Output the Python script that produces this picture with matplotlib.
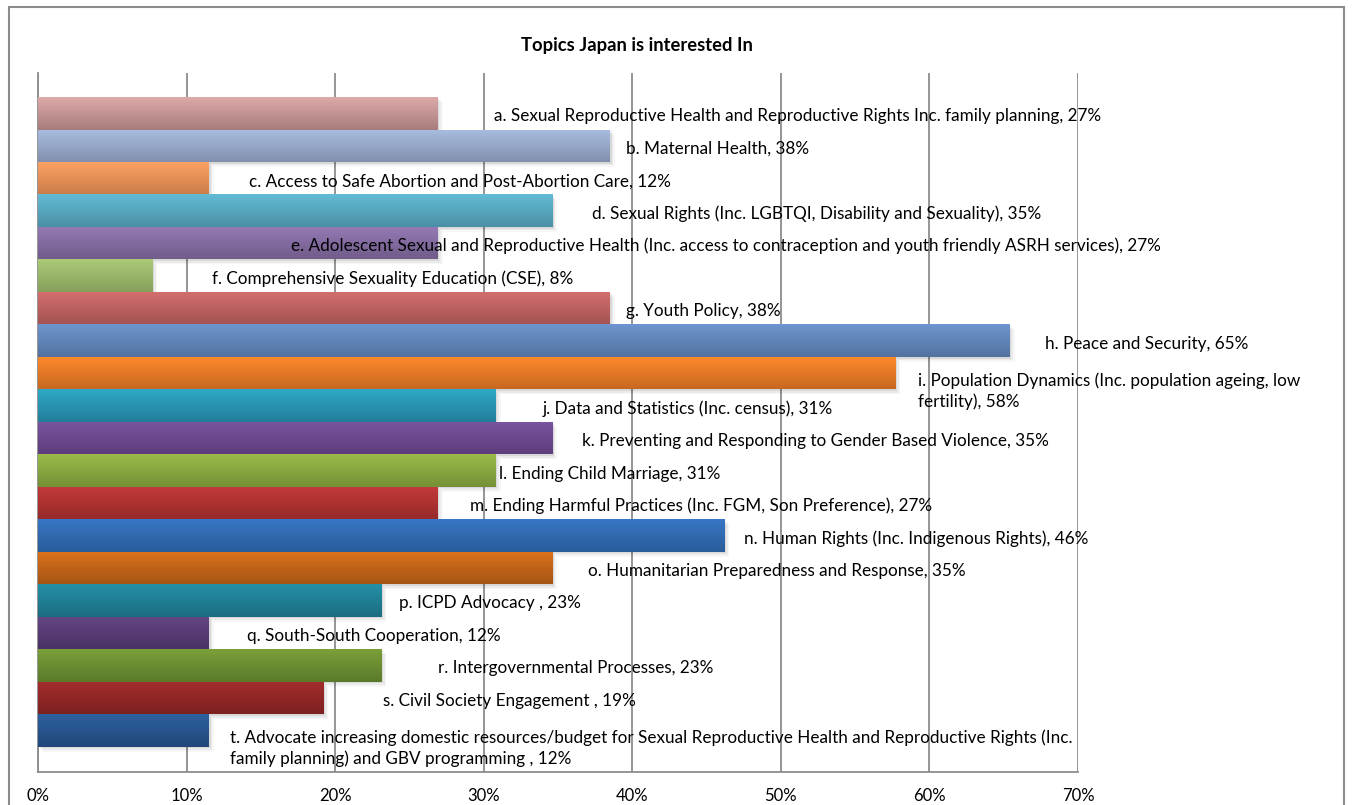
import matplotlib
matplotlib.use('Agg')
import matplotlib.pyplot as plt
import numpy as np
from matplotlib.colors import LinearSegmentedColormap
from matplotlib.patches import Rectangle
from matplotlib.transforms import ScaledTranslation

plt.rcParams['font.family'] = ['Lato', 'DejaVu Sans']

topics = [
    'a. Sexual Reproductive Health and Reproductive Rights Inc. family planning',
    'b. Maternal Health',
    'c. Access to Safe Abortion and Post-Abortion Care',
    'd. Sexual Rights (Inc. LGBTQI, Disability and Sexuality)',
    'e. Adolescent Sexual and Reproductive Health (Inc. access to contraception and youth friendly ASRH services)',
    'f. Comprehensive Sexuality Education (CSE)',
    'g. Youth Policy',
    'h. Peace and Security',
    'i. Population Dynamics (Inc. population ageing, low\nfertility)',
    'j. Data and Statistics (Inc. census)',
    'k. Preventing and Responding to Gender Based Violence',
    'l. Ending Child Marriage',
    'm. Ending Harmful Practices (Inc. FGM, Son Preference)',
    'n. Human Rights (Inc. Indigenous Rights)',
    'o. Humanitarian Preparedness and Response',
    'p. ICPD Advocacy ',
    'q. South-South Cooperation',
    'r. Intergovernmental Processes',
    's. Civil Society Engagement ',
    't. Advocate increasing domestic resources/budget for Sexual Reproductive Health and Reproductive Rights (Inc.\nfamily planning) and GBV programming ',
]
# share of respondents, percent
values = [26.9, 38.5, 11.5, 34.6, 26.9, 7.7, 38.5, 65.4, 57.7, 30.8,
          34.6, 30.8, 26.9, 46.2, 34.6, 23.1, 11.5, 23.1, 19.2, 11.5]

# where each data label starts (percent axis), as placed in the original
label_x = [30.7, 39.6, 14.2, 37.3, 17.0, 11.7, 39.6, 67.8, 59.2, 34.0,
           36.6, 31.0, 29.1, 47.5, 37.0, 24.3, 14.1, 26.9, 23.2, 12.9]

# gradient colours, top -> bottom of each bar
grad_colors = [
    ('#DDA9A9', '#A87C7C'), ('#A9BDE0', '#8290AE'), ('#FFA264', '#CC7E4A'),
    ('#63BBD6', '#4A90A6'), ('#957AB5', '#715C8A'), ('#ABCB77', '#86A05C'),
    ('#D46E6E', '#A55353'), ('#6E95CF', '#54729F'), ('#FF8A2C', '#C76820'),
    ('#2EA8C7', '#227E99'), ('#7A54A0', '#5E3E7C'), ('#9ABC48', '#759036'),
    ('#C43A3A', '#972A2A'), ('#3877C6', '#2A5C9A'), ('#DC721C', '#A65515'),
    ('#2490A8', '#1B6D80'), ('#644685', '#4A3264'), ('#7BA03A', '#5A7A2A'),
    ('#A52D2D', '#7C2020'), ('#2D609F', '#214879'),
]

fig = plt.figure(figsize=(13.52, 8.05), dpi=100)
ax = fig.add_axes([38 / 1352, 33.3 / 805, 1040 / 1352, 698.7 / 805])

ypos = np.arange(len(values))
bars = ax.barh(ypos, values, height=1.0, color='none', zorder=3)

grad = np.linspace(0, 1, 64).reshape(-1, 1)
for i, (bar, v) in enumerate(zip(bars, values)):
    # soft drop shadow
    for off, a in [(1.2, 0.07), (2.4, 0.05), (3.6, 0.03)]:
        tr = ax.transData + ScaledTranslation(off / 72, -off / 72, fig.dpi_scale_trans)
        ax.add_patch(Rectangle((0, i - 0.5), v, 1.0, transform=tr,
                               color='#000000', alpha=a, lw=0, zorder=2))
    cmap = LinearSegmentedColormap.from_list('g%d' % i, grad_colors[i])
    im = ax.imshow(grad, extent=[0, v, i + 0.5, i - 0.5], cmap=cmap,
                   aspect='auto', interpolation='bilinear', zorder=3,
                   origin='upper')
    im.set_clip_path(bar)

for i, (t, v) in enumerate(zip(topics, values)):
    yy = i + 0.55 if '\n' in t else i + 0.09
    ax.text(label_x[i], yy, '%s, %d%%' % (t, round(v)), va='center', ha='left',
            fontsize=12.3, color='#000000', linespacing=1.35, zorder=4)

ax.set_xlim(0, 70)
ax.set_ylim(20.27, -1.24)
ax.set_xticks(np.arange(0, 71, 10))
ax.set_xticklabels(['%d%%' % t for t in range(0, 71, 10)], fontsize=12)
ax.set_yticks([])
ax.tick_params(axis='x', length=0, pad=12)
ax.xaxis.grid(True, color='#8c8c8c', lw=1.3)
ax.set_axisbelow(True)
for s in ['top', 'right']:
    ax.spines[s].set_visible(False)
for s in ['left', 'bottom']:
    ax.spines[s].set_color('#8c8c8c')
    ax.spines[s].set_linewidth(1.3)

fig.text(637 / 1352, 1 - 46 / 805, 'Topics Japan is interested In',
         ha='center', va='center', fontsize=13.2, fontweight='bold')

# chart area border
fig.patches.append(Rectangle((8.5 / 1352, -0.05), (1344 - 8.5) / 1352, 1.05 - 7.5 / 805,
                             transform=fig.transFigure, fill=False,
                             edgecolor='#8c8c8c', lw=1.5))

fig.savefig('out.png', dpi=100)
